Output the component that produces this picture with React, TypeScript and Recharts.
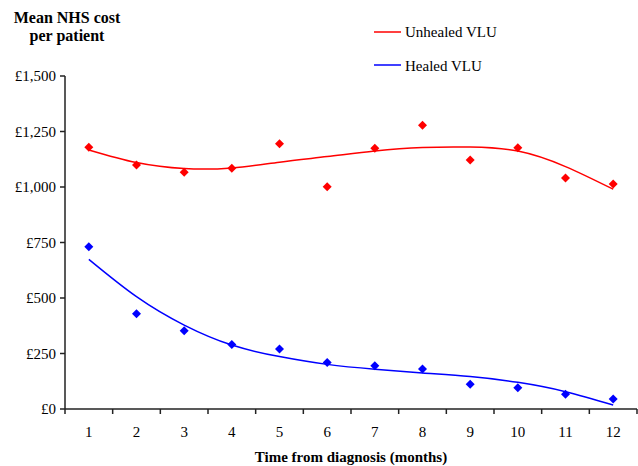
import React from 'react'
import { ComposedChart, Line, XAxis, YAxis } from 'recharts'

const months = [1, 2, 3, 4, 5, 6, 7, 8, 9, 10, 11, 12]
const unhealedCost = [1179, 1099, 1067, 1084, 1195, 1001, 1174, 1278, 1122, 1177, 1041, 1014]
const healedCost = [731, 429, 353, 291, 270, 210, 195, 180, 111, 96, 66, 45]
// polynomial trend lines
const unhealedTrend = [1167, 1110, 1083, 1086, 1112, 1137, 1162, 1178, 1180, 1162, 1092, 990]
const healedTrend = [674, 506, 378, 288, 236, 201, 179, 162, 146, 120, 78, 18]
const yTicks = [0, 250, 500, 750, 1000, 1250, 1500]

const series = [
  { name: 'Unhealed VLU', color: '#ff0000' },
  { name: 'Healed VLU', color: '#0000ff' },
]

const rows = months.map((m, i) => ({
  month: m,
  unhealed: unhealedCost[i],
  healed: healedCost[i],
  unhealedFit: unhealedTrend[i],
  healedFit: healedTrend[i],
}))

// tick marks sit between the months, like a category axis
const xTicks = [...months.map((m) => m - 0.5), months[months.length - 1] + 0.5]

const FONT = '"Liberation Serif", "Times New Roman", serif'

const money = (v: number) => '£' + v.toLocaleString('en-GB')

function MonthTick(props: any) {
  const { x, y, payload, width } = props
  if (payload.value >= months[months.length - 1]) return null
  const half = width / months.length / 2
  return (
    <text x={x + half} y={y} dy="0.71em" textAnchor="middle" fontSize={15} fontFamily={FONT} fill="#000">
      {payload.value + 0.5}
    </text>
  )
}

function Diamond(color: string) {
  return (props: any) => {
    const { cx, cy, index } = props
    if (cx == null || cy == null) return null
    const r = 4.5
    return (
      <polygon
        key={index}
        points={`${cx},${cy - r} ${cx + r},${cy} ${cx},${cy + r} ${cx - r},${cy}`}
        fill={color}
      />
    )
  }
}

export default function App() {
  return (
    <div style={{ position: 'absolute', left: 0, top: 0, width: 638, height: 466, background: '#fff' }}>
      <ComposedChart width={638} height={466} data={rows} margin={{ top: 76, right: 1, left: 0, bottom: 27 }}>
        <XAxis
          dataKey="month"
          type="number"
          domain={[0.5, 12.5]}
          ticks={xTicks}
          interval={0}
          height={30}
          tickSize={5}
          tickMargin={12}
          tick={<MonthTick />}
          stroke="#222"
          strokeWidth={1.5}
        />
        <YAxis
          type="number"
          domain={[0, 1500]}
          ticks={yTicks}
          width={65}
          tickSize={5}
          tickMargin={4}
          tickFormatter={money}
          tick={{ fontSize: 15, fontFamily: FONT, fill: '#000' }}
          stroke="#222"
          strokeWidth={1.5}
        />
        <Line dataKey="unhealedFit" type="natural" stroke={series[0].color} strokeWidth={1.5} dot={false} activeDot={false} isAnimationActive={false} />
        <Line dataKey="healedFit" type="natural" stroke={series[1].color} strokeWidth={1.5} dot={false} activeDot={false} isAnimationActive={false} />
        <Line dataKey="unhealed" stroke="none" dot={Diamond(series[0].color)} activeDot={false} isAnimationActive={false} />
        <Line dataKey="healed" stroke="none" dot={Diamond(series[1].color)} activeDot={false} isAnimationActive={false} />
      </ComposedChart>
      <svg width={638} height={466} style={{ position: 'absolute', left: 0, top: 0, pointerEvents: 'none' }}>
        <g fontFamily={FONT} fontWeight="bold" fontSize={16} fill="#000" textAnchor="middle">
          <text x={67} y={23}>Mean NHS cost</text>
          <text x={67} y={41}>per patient</text>
        </g>
        <text x={351} y={462} fontFamily={FONT} fontWeight="bold" fontSize={15} textAnchor="middle" fill="#000">
          Time from diagnosis (months)
        </text>
        {series.map((s, i) => (
          <g key={s.name}>
            <line x1={374} x2={401} y1={32 + i * 33} y2={32 + i * 33} stroke={s.color} strokeWidth={1.5} />
            <text x={405} y={37 + i * 34} fontFamily={FONT} fontSize={15} fill="#000">{s.name}</text>
          </g>
        ))}
      </svg>
    </div>
  )
}
